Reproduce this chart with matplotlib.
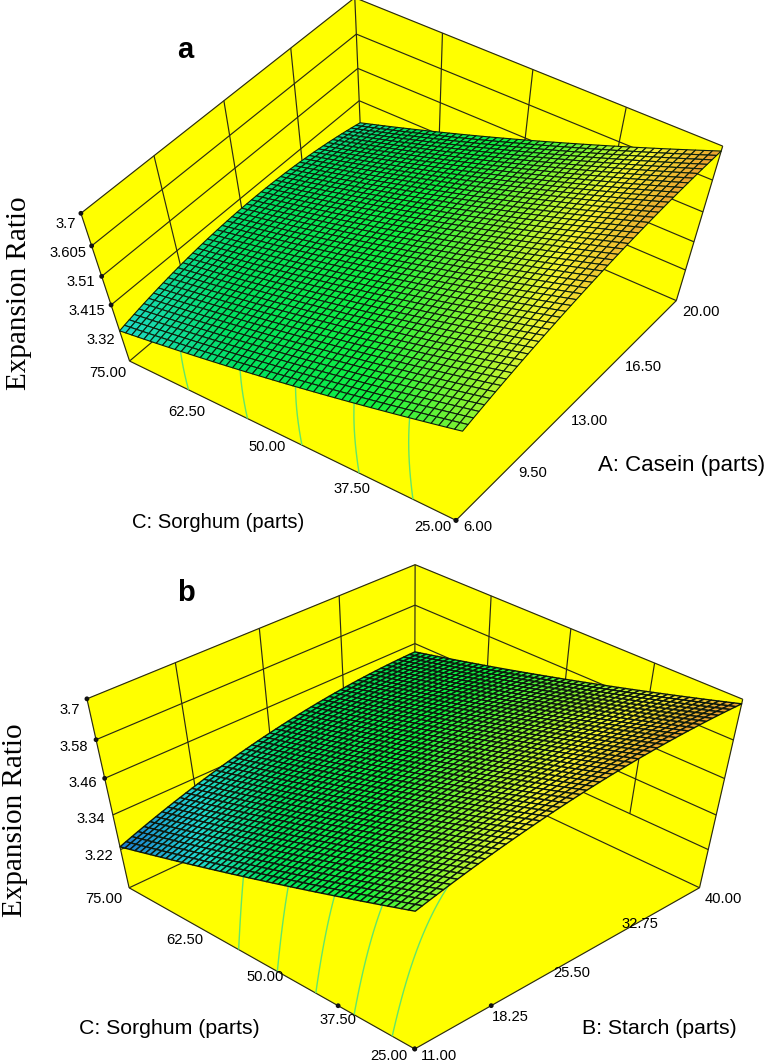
import numpy as np
import matplotlib
matplotlib.use('Agg')
import matplotlib.pyplot as plt
from matplotlib.colors import LinearSegmentedColormap, Normalize
from mpl_toolkits.mplot3d.art3d import Poly3DCollection, Line3DCollection

W, H = 780, 1063

# ---- data -----------------------------------------------------------------
sorghum_ticks = [25.0, 37.5, 50.0, 62.5, 75.0]
casein_ticks = [6.0, 9.5, 13.0, 16.5, 20.0]
starch_ticks = [11.0, 18.25, 25.5, 32.75, 40.0]
z_ticks_a = [3.32, 3.415, 3.51, 3.605, 3.7]
z_ticks_b = [3.22, 3.34, 3.46, 3.58, 3.7]
z_tick_labels_a = ['3.32', '3.415', '3.51', '3.605', '3.7']
z_tick_labels_b = ['3.22', '3.34', '3.46', '3.58', '3.7']
sorghum_labels = ['25.00', '37.50', '50.00', '62.50', '75.00']
casein_labels = ['6.00', '9.50', '13.00', '16.50', '20.00']
starch_labels = ['11.00', '18.25', '25.50', '32.75', '40.00']
floor_a = 3.21
floor_b = 3.08

# rows: sorghum 25 -> 75, columns: casein 6 -> 20
expansion_a = [
    [3.565, 3.625, 3.660, 3.680, 3.689],
    [3.496, 3.552, 3.580, 3.593, 3.591],
    [3.426, 3.481, 3.505, 3.515, 3.505],
    [3.371, 3.423, 3.441, 3.446, 3.425],
    [3.323, 3.370, 3.381, 3.378, 3.346],
]
# rows: sorghum 25 -> 75, columns: starch 11 -> 40
expansion_b = [
    [3.562, 3.627, 3.664, 3.682, 3.689],
    [3.465, 3.538, 3.582, 3.604, 3.617],
    [3.384, 3.462, 3.511, 3.534, 3.551],
    [3.307, 3.392, 3.447, 3.472, 3.494],
    [3.225, 3.318, 3.379, 3.408, 3.436],
]
contour_levels_a = [3.36, 3.40, 3.44, 3.485, 3.53]
contour_levels_b = [3.355, 3.40, 3.445, 3.49, 3.535]

color_z = [3.22, 3.32, 3.40, 3.50, 3.58, 3.63, 3.70]
color_hex = ['#1e6fd0', '#20d8d0', '#00e060', '#10f040', '#90f530', '#f5f530', '#ea9430']

# ---- camera calibration: (x, y, z) -> pixel of the box corners and ticks ----
cal_a = [(75, 6, 3.7, 82, 215), (75, 6, 3.605, 91, 245), (75, 6, 3.51, 100, 274),
         (75, 6, 3.415, 110, 303), (75, 6, 3.32, 120, 331), (75, 6, 3.21, 131, 364),
         (25, 20, 3.7, 722, 150), (25, 20, 3.605, 713, 179), (25, 20, 3.51, 704, 209),
         (25, 20, 3.415, 695, 239), (25, 20, 3.32, 686, 269), (25, 20, 3.21, 675, 303),
         (75, 20, 3.7, 355, 1), (75, 20, 3.605, 356, 34), (75, 20, 3.51, 358, 67),
         (75, 20, 3.415, 359, 100), (25, 6, 3.21, 456, 518), (37.5, 6, 3.21, 374, 480),
         (25, 9.5, 3.21, 511, 465)]
cal_b = [(75, 11, 3.7, 87, 702), (75, 11, 3.58, 96, 739), (75, 11, 3.46, 104, 775),
         (75, 11, 3.34, 112, 812), (75, 11, 3.22, 120, 848), (75, 11, 3.08, 130, 891),
         (25, 40, 3.7, 742, 703), (25, 40, 3.58, 734, 739), (25, 40, 3.46, 726, 775),
         (25, 40, 3.34, 717, 812), (25, 40, 3.22, 708, 848), (25, 40, 3.08, 699, 891),
         (75, 40, 3.7, 415, 568), (75, 40, 3.58, 415, 605), (75, 40, 3.46, 415, 642),
         (25, 11, 3.08, 415, 1047), (37.5, 11, 3.08, 343, 1008), (25, 18.25, 3.08, 486, 1008)]


def solve_camera(cal):
    cal = np.array(cal, float)
    A, b = [], []
    for x, y, z, u, v in cal:
        A.append([x, y, z, 1, 0, 0, 0, 0, -u * x, -u * y, -u * z]); b.append(u)
        A.append([0, 0, 0, 0, x, y, z, 1, -v * x, -v * y, -v * z]); b.append(v)
    A, b = np.array(A), np.array(b)
    s = np.abs(A).max(axis=0)
    p = np.linalg.lstsq(A / s, b, rcond=None)[0] / s
    P = np.append(p, 1).reshape(3, 4)
    centre = P[2] @ np.r_[cal[:, :3].mean(axis=0), 1]
    return P / centre


def pinned_axes(fig, P, layer, tag):
    ax = fig.add_axes([0, 0, 1, 1], projection='3d', computed_zorder=False,
                      label=f'{tag}{layer}')
    ax.set_zorder(layer)
    ax.set_axis_off()
    ax.patch.set_visible(False)

    def get_proj():
        vl = ax.viewLim
        Mx = vl.x0 * P[2] + (vl.x1 - vl.x0) / W * P[0]
        My = vl.y1 * P[2] - (vl.y1 - vl.y0) / H * P[1]
        Mz = P[2] - np.array([0, 0, 0, 1.0])
        return np.array([Mx, My, Mz, P[2]])

    ax.get_proj = get_proj
    ax.apply_aspect = lambda position=None, **k: None
    return ax


def refine(ticks, n=51):
    """Design matrix that carries the 5 read values onto the drawn mesh (quadratic model)."""
    t = np.array(ticks)
    fine = np.linspace(t[0], t[-1], n)
    return fine, np.vander(fine, 3) @ np.linalg.pinv(np.vander(t, 3))


norm = Normalize(color_z[0], color_z[-1])
cmap = LinearSegmentedColormap.from_list(
    'design', [(norm(z), c) for z, c in zip(color_z, color_hex)])

LINE = '#2a2a14'
LW = 0.85
plt.rcParams['font.family'] = ['Liberation Sans', 'DejaVu Sans']
fig = plt.figure(figsize=(W / 100, H / 100), dpi=100)


def panel(tag, cal, y_ticks, z_ticks, table, floor, levels, edge, edge_lw):
    P = solve_camera(cal)
    ax_bg, ax_mid, ax_surf, ax_mark = [pinned_axes(fig, P, k, tag) for k in range(1, 5)]
    c_lo, c_hi = sorghum_ticks[0], sorghum_ticks[-1]
    y_lo, y_hi = y_ticks[0], y_ticks[-1]
    top = z_ticks[-1]

    faces = [
        [(c_hi, y_lo, floor), (c_lo, y_lo, floor), (c_lo, y_hi, floor), (c_hi, y_hi, floor)],
        [(c_hi, y_lo, floor), (c_hi, y_hi, floor), (c_hi, y_hi, top), (c_hi, y_lo, top)],
        [(c_hi, y_hi, floor), (c_lo, y_hi, floor), (c_lo, y_hi, top), (c_hi, y_hi, top)],
    ]
    ax_bg.add_collection3d(Poly3DCollection(faces, facecolor='#ffff00', edgecolor='#ffff00',
                                            linewidth=0.3))

    segs = []
    for z in list(z_ticks) + [floor]:
        segs.append([(c_hi, y_lo, z), (c_hi, y_hi, z)])
        segs.append([(c_hi, y_hi, z), (c_lo, y_hi, z)])
    for y in y_ticks[1:-1]:
        segs.append([(c_hi, y, z_ticks[0]), (c_hi, y, top)])
    for c in sorghum_ticks[1:-1]:
        segs.append([(c, y_hi, z_ticks[0]), (c, y_hi, top)])
    segs.append([(c_hi, y_lo, floor), (c_hi, y_lo, top)])
    segs.append([(c_hi, y_hi, floor), (c_hi, y_hi, top)])
    segs.append([(c_lo, y_hi, floor), (c_lo, y_hi, top)])
    segs.append([(c_hi, y_lo, floor), (c_lo, y_lo, floor)])
    segs.append([(c_lo, y_lo, floor), (c_lo, y_hi, floor)])
    ax_mid.add_collection3d(Line3DCollection(segs, colors=LINE, linewidths=LW))

    cf, Lc = refine(sorghum_ticks)
    yf, Ly = refine(y_ticks)
    Zf = Lc @ np.array(table) @ Ly.T
    Yg, Xg = np.meshgrid(yf, cf)

    ax_mid.contour(Xg, Yg, Zf, levels=levels, zdir='z', offset=floor,
                   colors='#62e66a', linewidths=1.0)

    surf = ax_surf.plot_surface(Xg, Yg, Zf, rstride=1, cstride=1, shade=False,
                                facecolors=cmap(norm(Zf)))
    surf.set_edgecolor(edge)
    surf.set_linewidth(edge_lw)

    xs = [c_hi] * len(z_ticks) + sorghum_ticks + [c_lo] * 5
    ys = [y_lo] * len(z_ticks) + [y_lo] * 5 + list(y_ticks)
    zs = list(z_ticks) + [floor] * 10
    ax_mark.scatter(xs, ys, zs, s=12, c='#111111', edgecolors='none', depthshade=False)


panel('a', cal_a, casein_ticks, z_ticks_a, expansion_a, floor_a, contour_levels_a, '#0c200c', 0.8)
panel('b', cal_b, starch_ticks, z_ticks_b, expansion_b, floor_b, contour_levels_b, '#0c180c', 1.0)


def label(x, y, s, **kw):
    kw.setdefault('fontsize', 10.6)
    fig.text(x / W, 1 - y / H, s, ha='center', va='center', **kw)


for s, xy in zip(z_tick_labels_a, [(101, 340), (87, 311), (81, 282), (68, 253), (66, 224)]):
    label(*xy, s)
for s, xy in zip(sorghum_labels, [(433, 527), (352, 489), (267, 447), (187, 412), (108, 373)]):
    label(*xy, s)
for s, xy in zip(casein_labels, [(478, 527), (533, 473), (589, 421), (643, 367), (701, 312)]):
    label(*xy, s)
for s, xy in zip(z_tick_labels_b, [(99, 856), (91, 819), (83, 783), (74, 747), (70, 710)]):
    label(*xy, s)
for s, xy in zip(sorghum_labels, [(389, 1056), (338, 1020), (265, 977), (185, 940), (104, 899)]):
    label(*xy, s)
for s, xy in zip(starch_labels, [(439, 1056), (510, 1017), (572, 973), (640, 924), (723, 899)]):
    label(*xy, s)

label(218, 522, 'C: Sorghum (parts)', fontsize=14.6)
label(682, 466, 'A: Casein (parts)', fontsize=16)
label(169, 1028, 'C: Sorghum (parts)', fontsize=15.3)
label(659, 1028, 'B: Starch (parts)', fontsize=15.3)
label(185, 50, 'a', fontsize=21, fontweight='bold')
label(186, 593, 'b', fontsize=21, fontweight='bold')
label(19, 293, 'Expansion Ratio', fontsize=21, rotation=90, family=['Liberation Serif'])
label(15, 820, 'Expansion Ratio', fontsize=21, rotation=90, family=['Liberation Serif'])

fig.savefig('out.png', dpi=100)
